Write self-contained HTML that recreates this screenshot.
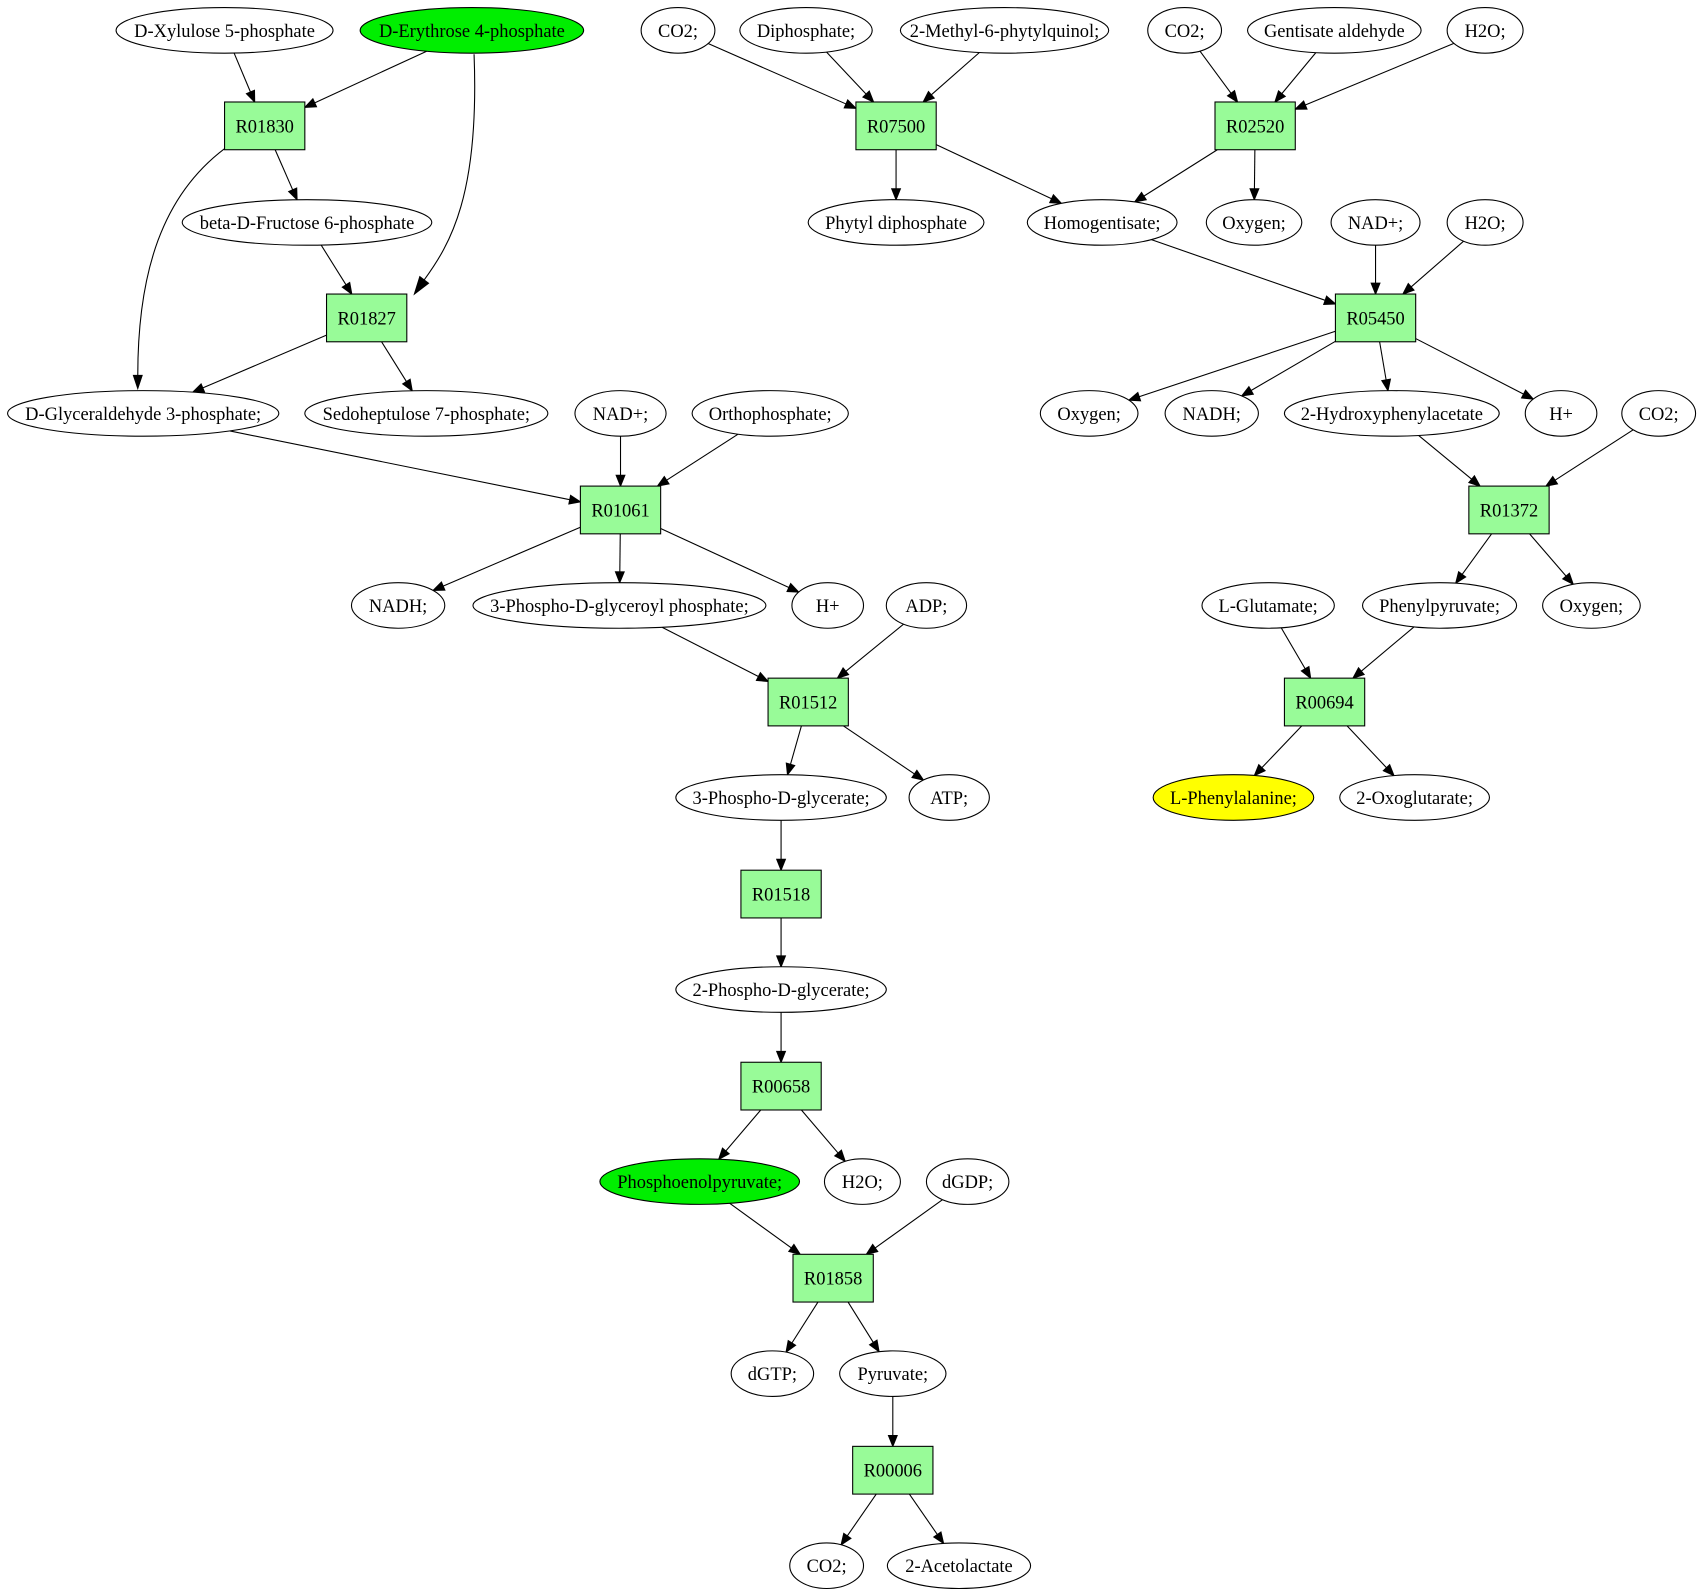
<!DOCTYPE html>
<html><head><meta charset="utf-8">
<style>
html,body{margin:0;padding:0;background:#fff;}
svg{display:block;}
text{font-family:"Liberation Serif",serif;font-size:17px;fill:#000;}
</style></head>
<body>
<svg id="g" width="1701" height="1595" viewBox="0 0 1568 1470" preserveAspectRatio="none" xmlns="http://www.w3.org/2000/svg">
<path d="M207,137 C150,180 127,250 127,346" fill="none" stroke="#000" stroke-width="1"/>
<polygon points="127,358 123,346 131,346" fill="#000" stroke="#000"/>
<path d="M437,50 C442,180 415,225 391,258" fill="none" stroke="#000" stroke-width="1"/>
<polygon points="382,271 387,255 395,261" fill="#000" stroke="#000"/>
</svg>
<script>
var N={};
function E(id,x,y,rx,label,fill){N[id]={t:'e',x:x,y:y,rx:rx,ry:21,l:label,f:fill||'#fff'};}
function B(id,x,y){N[id]={t:'b',x:x,y:y,w:37,h:22,l:id,f:'#98fb98'};}
E('Xyl',207,28,100,'D-Xylulose 5-phosphate');
E('Ery',435,28,103,'D-Erythrose 4-phosphate','#00ee00');
E('CO2a',625,28,34,'CO2;');
E('Diph',743,28,61,'Diphosphate;');
E('MPQ',926,28,96,'2-Methyl-6-phytylquinol;');
E('CO2b',1092,28,34,'CO2;');
E('Gent',1230,28,80,'Gentisate aldehyde');
E('H2Oa',1369,28,35,'H2O;');
B('R01830',244,116);B('R07500',826,116);B('R02520',1157,116);
E('bFru',283,205,115,'beta-D-Fructose 6-phosphate');
E('Phytyl',826,205,81,'Phytyl diphosphate');
E('Homog',1016,205,69,'Homogentisate;');
E('Oxy1',1156,205,44,'Oxygen;');
E('NAD1',1268,205,41,'NAD+;');
E('H2Ob',1369,205,35,'H2O;');
B('R01827',338,293);B('R05450',1268,293);
E('GAP',132,381,125,'D-Glyceraldehyde 3-phosphate;');
E('Sedo',393,381,112,'Sedoheptulose 7-phosphate;');
E('NAD2',572,381,42,'NAD+;');
E('Ortho',710,381,72,'Orthophosphate;');
E('Oxy2',1004,381,45,'Oxygen;');
E('NADH1',1117,381,43,'NADH;');
E('HPA',1283,381,99,'2-Hydroxyphenylacetate');
E('H1',1439,381,33,'H+');
E('CO2c',1529,381,34,'CO2;');
B('R01061',572,470);B('R01372',1391,470);
E('NADH2',367,558,43,'NADH;');
E('PGP',571,558,135,'3-Phospho-D-glyceroyl phosphate;');
E('H2',763,558,33,'H+');
E('ADP',854,558,37,'ADP;');
E('Glu',1169,558,61,'L-Glutamate;');
E('Phpyr',1327,558,71,'Phenylpyruvate;');
E('Oxy3',1467,558,45,'Oxygen;');
B('R01512',745,647);B('R00694',1221,647);
E('PG3',720,735,97,'3-Phospho-D-glycerate;');
E('ATP',875,735,37,'ATP;');
E('Phe',1137,735,74,'L-Phenylalanine;','#ffff00');
E('OG',1304,735,69,'2-Oxoglutarate;');
B('R01518',720,824);
E('PG2',720,912,97,'2-Phospho-D-glycerate;');
B('R00658',720,1001);
E('PEP',645,1089,92,'Phosphoenolpyruvate;','#00ee00');
E('H2Oc',795,1089,35,'H2O;');
E('dGDP',892,1089,38,'dGDP;');
B('R01858',768,1178);
E('dGTP',712,1266,38,'dGTP;');
E('Pyr',823,1266,49,'Pyruvate;');
B('R00006',823,1355);
E('CO2d',762,1443,34,'CO2;');
E('Acet',884,1443,66,'2-Acetolactate');
var ED=[['Xyl','R01830'],['Ery','R01830'],['R01830','bFru'],['bFru','R01827'],['R01827','GAP'],['R01827','Sedo'],
['CO2a','R07500'],['Diph','R07500'],['MPQ','R07500'],['R07500','Phytyl'],['R07500','Homog'],
['CO2b','R02520'],['Gent','R02520'],['H2Oa','R02520'],['R02520','Homog'],['R02520','Oxy1'],
['Homog','R05450'],['NAD1','R05450'],['H2Ob','R05450'],['R05450','Oxy2'],['R05450','NADH1'],['R05450','HPA'],['R05450','H1'],
['GAP','R01061'],['NAD2','R01061'],['Ortho','R01061'],['R01061','NADH2'],['R01061','PGP'],['R01061','H2'],
['HPA','R01372'],['CO2c','R01372'],['R01372','Phpyr'],['R01372','Oxy3'],
['PGP','R01512'],['ADP','R01512'],['R01512','PG3'],['R01512','ATP'],
['Glu','R00694'],['Phpyr','R00694'],['R00694','Phe'],['R00694','OG'],
['PG3','R01518'],['R01518','PG2'],['PG2','R00658'],['R00658','PEP'],['R00658','H2Oc'],
['PEP','R01858'],['dGDP','R01858'],['R01858','dGTP'],['R01858','Pyr'],['Pyr','R00006'],['R00006','CO2d'],['R00006','Acet']];
function bound(n,dx,dy){var t;
 if(n.t=='e'){t=1/Math.sqrt(Math.pow(dx/n.rx,2)+Math.pow(dy/n.ry,2));}
 else{t=Math.min(dx?n.w/Math.abs(dx):1e9,dy?n.h/Math.abs(dy):1e9);}
 return [n.x+dx*t,n.y+dy*t];}
var s='';
ED.forEach(function(e){var a=N[e[0]],b=N[e[1]];var dx=b.x-a.x,dy=b.y-a.y;
 var p=bound(a,dx,dy),q=bound(b,-dx,-dy);
 var L=Math.hypot(q[0]-p[0],q[1]-p[1]);var ux=(q[0]-p[0])/L,uy=(q[1]-p[1])/L;
 var bx=q[0]-ux*10,by=q[1]-uy*10;
 s+='<line x1="'+p[0]+'" y1="'+p[1]+'" x2="'+bx+'" y2="'+by+'" stroke="#000" stroke-width="1"/>';
 s+='<polygon points="'+q[0]+','+q[1]+' '+(bx-uy*4)+','+(by+ux*4)+' '+(bx+uy*4)+','+(by-ux*4)+'" fill="#000" stroke="#000"/>';});
for(var k in N){var n=N[k];
 if(n.t=='e')s+='<ellipse cx="'+n.x+'" cy="'+n.y+'" rx="'+n.rx+'" ry="'+n.ry+'" fill="'+n.f+'" stroke="#000" stroke-width="1"/>';
 else s+='<rect x="'+(n.x-n.w)+'" y="'+(n.y-n.h)+'" width="'+(2*n.w)+'" height="'+(2*n.h)+'" fill="'+n.f+'" stroke="#000" stroke-width="1"/>';
 s+='<text x="'+n.x+'" y="'+(n.y+6)+'" text-anchor="middle">'+n.l+'</text>';}
document.getElementById('g').insertAdjacentHTML('beforeend',s);
</script>
</body></html>
